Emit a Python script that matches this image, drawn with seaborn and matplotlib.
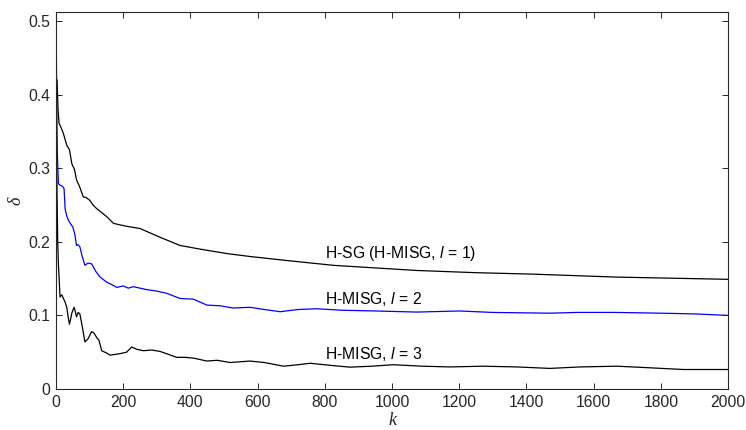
import matplotlib
matplotlib.use("Agg")
import matplotlib.pyplot as plt
import seaborn as sns

# H-SG (H-MISG, l = 1)
k_sg = [0, 3, 6, 9, 15, 22, 32, 40, 47, 55, 61, 70, 81, 90, 101, 110, 121, 135,
        151, 171, 190, 210, 250, 310, 369, 429, 508, 577, 677, 825, 1074, 1250,
        1421, 1669, 2000]
d_sg = [0.40, 0.42, 0.38, 0.361, 0.355, 0.347, 0.331, 0.325, 0.306, 0.298, 0.284,
        0.275, 0.261, 0.260, 0.256, 0.25, 0.245, 0.24, 0.234, 0.225, 0.223, 0.221,
        0.218, 0.206, 0.195, 0.190, 0.184, 0.180, 0.175, 0.168, 0.161, 0.158,
        0.156, 0.152, 0.149]

# H-MISG, l = 2
k_l2 = [0, 2, 4, 7, 12, 20, 24, 27, 32, 37, 44, 50, 56, 61, 66, 71, 78, 86, 95,
        106, 118, 131, 140, 151, 165, 181, 200, 215, 230, 250, 270, 300, 329, 369,
        409, 449, 490, 527, 577, 620, 667, 720, 776, 850, 950, 1074, 1200, 1300,
        1470, 1550, 1669, 1800, 1900, 2000]
d_l2 = [0.51, 0.40, 0.32, 0.279, 0.277, 0.275, 0.272, 0.245, 0.235, 0.229, 0.224,
        0.22, 0.21, 0.195, 0.196, 0.193, 0.18, 0.168, 0.171, 0.170, 0.16, 0.152,
        0.149, 0.145, 0.142, 0.138, 0.140, 0.137, 0.139, 0.137, 0.135, 0.133,
        0.130, 0.123, 0.122, 0.114, 0.113, 0.110, 0.111, 0.108, 0.105, 0.108,
        0.109, 0.107, 0.106, 0.1045, 0.106, 0.104, 0.103, 0.104, 0.104, 0.103,
        0.102, 0.100]

# H-MISG, l = 3
k_l3 = [0, 2, 5, 7, 12, 17, 22, 27, 32, 36, 40, 44, 47, 51, 54, 58, 61, 66, 71,
        78, 86, 95, 106, 113, 121, 128, 136, 150, 161, 175, 190, 210, 225, 240,
        260, 285, 310, 335, 359, 385, 409, 449, 480, 518, 577, 620, 677, 720, 756,
        820, 875, 940, 1004, 1090, 1173, 1270, 1371, 1470, 1560, 1669, 1760, 1867,
        2000]
d_l3 = [0.38, 0.30, 0.20, 0.17, 0.125, 0.128, 0.123, 0.118, 0.111, 0.098, 0.088,
        0.096, 0.103, 0.108, 0.111, 0.104, 0.098, 0.104, 0.102, 0.085, 0.064,
        0.068, 0.078, 0.076, 0.070, 0.066, 0.052, 0.049, 0.046, 0.047, 0.048,
        0.050, 0.057, 0.054, 0.052, 0.053, 0.051, 0.047, 0.043, 0.043, 0.042,
        0.038, 0.039, 0.036, 0.038, 0.036, 0.031, 0.033, 0.035, 0.032, 0.0297,
        0.031, 0.033, 0.031, 0.030, 0.031, 0.030, 0.028, 0.030, 0.031, 0.029,
        0.0265, 0.0265]

labels = ["H-SG (H-MISG, $\\mathit{l}$ = 1)", "H-MISG, $\\mathit{l}$ = 2",
          "H-MISG, $\\mathit{l}$ = 3"]
label_x = [800, 800, 800]
label_y = [0.184, 0.122, 0.047]

sns.set_theme(style="ticks")
plt.rcParams["font.family"] = ["Liberation Sans", "DejaVu Sans"]
plt.rcParams["mathtext.fontset"] = "custom"
plt.rcParams["mathtext.it"] = "Liberation Sans:italic"
plt.rcParams["mathtext.rm"] = "Liberation Sans"

dark = "#262626"
fig = plt.figure(figsize=(7.46, 4.30), dpi=100)
ax = fig.add_axes([0.0751, 0.0953, 0.9008, 0.8767])

sns.lineplot(x=k_sg, y=d_sg, color="black", lw=0.9, ax=ax, estimator=None, sort=False)
sns.lineplot(x=k_l2, y=d_l2, color="blue", lw=0.9, ax=ax, estimator=None, sort=False)
sns.lineplot(x=k_l3, y=d_l3, color="black", lw=0.9, ax=ax, estimator=None, sort=False)

for txt, tx, ty in zip(labels, label_x, label_y):
    ax.text(tx, ty, txt, fontsize=11.3, color="black", va="center", ha="left")

ax.set_xlim(0, 2000)
ax.set_ylim(0, 0.512)
ax.set_xticks(range(0, 2001, 200))
ax.set_yticks([0, 0.1, 0.2, 0.3, 0.4, 0.5])
ax.set_yticklabels(["0", "0.1", "0.2", "0.3", "0.4", "0.5"])
ax.tick_params(direction="in", top=True, right=True, length=4, width=0.7,
               colors=dark, labelsize=11.3, pad=4)
for s in ax.spines.values():
    s.set_visible(True)
    s.set_color(dark)
    s.set_linewidth(0.8)

ax.set_xlabel("k", family="Liberation Serif", style="italic", fontsize=13,
              color=dark, labelpad=2)
ax.set_ylabel("δ", family="Liberation Serif", style="italic", fontsize=13,
              color=dark, labelpad=3)

fig.savefig("out.png", dpi=100)
